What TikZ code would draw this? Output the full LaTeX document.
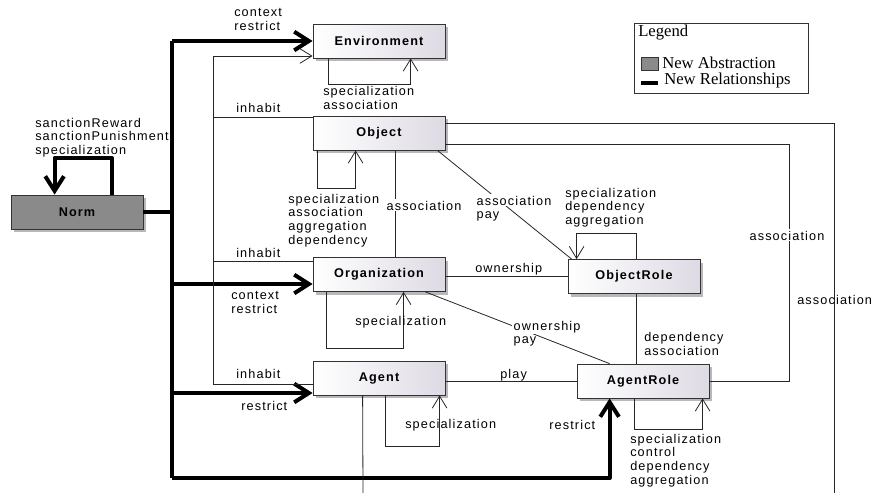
\documentclass[tikz,border=0pt]{standalone}
\usepackage{fontspec}
\setmainfont{Liberation Sans}
\newfontfamily\lblfont[LetterSpace=9]{Liberation Sans}
\newfontfamily\legfont{Liberation Serif}
\usetikzlibrary{arrows.meta, calc, shadows}

\definecolor{boxright}{HTML}{DEDAE4}
\definecolor{normgray}{HTML}{8A8A8A}

\begin{document}
\begin{tikzpicture}[x=0.75pt, y=-0.75pt,
    boxbase/.style={draw=black!80, line width=0.6pt, minimum width=99pt, minimum height=25.5pt,
        drop shadow={shadow xshift=2.5pt, shadow yshift=-2.5pt, fill=black!35, opacity=0.8},
        font=\lblfont\bfseries\fontsize{9.5}{11}\selectfont},
    cls/.style={boxbase, left color=white, right color=boxright},
    newcls/.style={boxbase, fill=normgray},
    rel/.style={draw=black!85, line width=0.6pt},
    newrel/.style={line width=3pt, line join=round},
    opentip/.style={-{Straight Barb[length=9pt, width=11pt]}},
    newtip/.style={-{Straight Barb[length=11pt, width=14pt]}},
    lbl/.style={font=\lblfont\fontsize{9.5}{10.3}\selectfont, align=left, inner sep=0pt, anchor=base west},
    knock/.style={lbl, fill=white, inner sep=1pt},
    legtxt/.style={font=\legfont\fontsize{12.5}{14}\selectfont, inner sep=0pt, anchor=base west}]
    \useasboundingbox (0,0) rectangle (871,493);

    % Classes
    \node[cls] (Environment) at (379,41) {Environment};
    \node[cls] (Object) at (379,133) {Object};
    \node[cls] (Organization) at (379,274.5) {Organization};
    \node[cls] (Agent) at (379,378) {Agent};
    \node[cls] (ObjectRole) at (634,276.5) {ObjectRole};
    \node[cls] (AgentRole) at (643,381) {AgentRole};
    \node[newcls] (Norm) at (77,212) {Norm};

    % Junction points
    \coordinate (normTop) at (172,41);
    \coordinate (normOrg) at (172,284);
    \coordinate (normAgent) at (172,393);
    \coordinate (normBot) at (172,478);
    \coordinate (inhTop) at (213,56);
    \coordinate (inhObj) at (213,117);
    \coordinate (inhOrg) at (213,261);
    \coordinate (inhBot) at (213,384);
    \coordinate (agentEnd) at (363,493);
    \coordinate (farEnd) at (834,493);

    % New relationships of Norm
    \draw[newrel] (Norm.east) -- (Norm.east -| normTop);
    \draw[newrel] (normTop) -- (normBot);
    \draw[newrel, newtip] (normTop) -- (Environment.west);
    \draw[newrel, newtip] (normOrg) -- (normOrg -| Organization.west);
    \draw[newrel, newtip] (normAgent) -- (normAgent -| Agent.west);
    \draw[newrel, newtip] (normBot) -| ($(AgentRole.south west)+(33,0)$);
    \draw[newrel, newtip] ($(Norm.north west)+(101,0)$) -- ++(0,-37) -| ($(Norm.north west)+(44,0)$);

    % Inhabit
    \draw[rel] (inhBot) -- (inhTop);
    \draw[rel, opentip] (inhTop) -- (inhTop -| Environment.west);
    \draw[rel] (inhObj) -- (inhObj -| Object.west);
    \draw[rel] (inhOrg) -- (inhOrg -| Organization.west);
    \draw[rel] (inhBot) -- (inhBot -| Agent.west);

    % Self relationships
    \draw[rel, opentip] ($(Environment.south west)+(16,0)$) -- ++(0,26) -| ($(Environment.south west)+(98,0)$);
    \draw[rel, opentip] ($(Object.south west)+(5,0)$) -- ++(0,38) -| ($(Object.south west)+(43,0)$);
    \draw[rel, opentip] ($(Organization.south west)+(14,0)$) -- ++(0,56) -| ($(Organization.south west)+(91,0)$);
    \draw[rel, opentip] ($(Agent.south west)+(73,0)$) -- ++(0,51) -| ($(Agent.south west)+(127,0)$);
    \draw[rel, opentip] ($(AgentRole.south west)+(58,0)$) -- ++(0,31) -| ($(AgentRole.south west)+(126,0)$);
    \draw[rel, opentip] ($(ObjectRole.north west)+(69,0)$) -- ++(0,-26) -| ($(ObjectRole.north west)+(9,0)$);

    % Other relationships
    \draw[rel] ($(Object.south west)+(83,0)$) -- ($(Organization.north west)+(83,0)$);
    \draw[rel] ($(Object.south east)+(-8,0)$) -- ($(ObjectRole.north west)+(4,0)$);
    \draw[rel] ($(Object.north east)+(0,8)$) -| (farEnd);
    \draw[rel] ($(Object.south east)+(0,-6)$) -- ++(344,0) |- (AgentRole.east);
    \draw[rel] (Organization.east |- ObjectRole.west) -- (ObjectRole.west);
    \draw[rel] ($(Organization.south east)+(-20,0)$) -- ($(AgentRole.north west)+(33,0)$);
    \draw[rel] ($(ObjectRole.south west)+(69,0)$) -- ($(AgentRole.north west)+(60,0)$);
    \draw[rel] (Agent.east |- AgentRole.west) -- (AgentRole.west);
    \draw[rel] ($(Agent.south west)+(50,0)$) -- (agentEnd);

    % Labels (base = last line)
    \node[lbl] at (234,30.7) {context\\restrict};
    \node[lbl] at (35,154.5) {sanctionReward\\sanctionPunishment\\specialization};
    \node[lbl] at (323,109.7) {specialization\\association};
    \node[lbl] at (236,112) {inhabit};
    \node[lbl] at (288,244.2) {specialization\\association\\aggregation\\dependency};
    \node[knock] at (385,210) {association};
    \node[knock] at (475,205) {association};
    \node[knock] at (475,218.7) {pay};
    \node[lbl] at (565,224.5) {specialization\\dependency\\aggregation};
    \node[knock] at (748,240) {association};
    \node[lbl] at (236,257) {inhabit};
    \node[lbl] at (231,313.7) {context\\restrict};
    \node[lbl] at (475,272) {ownership};
    \node[lbl] at (355,325) {specialization};
    \node[knock] at (512,330) {ownership};
    \node[knock] at (512,343.7) {pay};
    \node[lbl] at (644,355.7) {dependency\\association};
    \node[lbl] at (797,304) {association};
    \node[lbl] at (236,378) {inhabit};
    \node[lbl] at (500,378) {play};
    \node[lbl] at (241,410) {restrict};
    \node[lbl] at (405,428) {specialization};
    \node[lbl] at (549,429) {restrict};
    \node[lbl] at (630,484.2) {specialization\\control\\dependency\\aggregation};

    % Legend
    \node[draw=black!80, line width=0.6pt, minimum width=130.5pt, minimum height=52.5pt] (legend) at (721,58) {};
    \node[legtxt] (legTitle) at (638,36) {Legend};
    \node[draw=black!80, fill=normgray, minimum width=12.75pt, minimum height=9.75pt, inner sep=0pt] (legSwatch) at (649.5,63.5) {};
    \node[legtxt] (legAbs) at (662,68) {New Abstraction};
    \coordinate (legLineA) at (641,83);
    \coordinate (legLineB) at (658,83);
    \draw[newrel] (legLineA) -- (legLineB);
    \node[legtxt] (legRel) at (664,84) {New Relationships};
\end{tikzpicture}
\end{document}
